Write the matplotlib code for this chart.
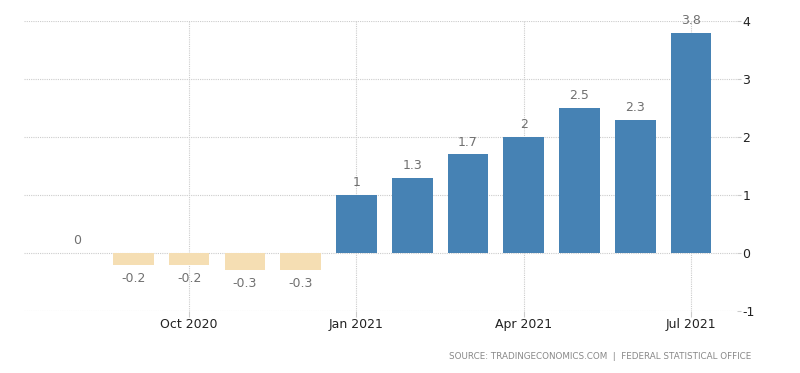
import matplotlib.pyplot as plt
import numpy as np

# monthly values, Aug 2020 - Jul 2021
months = ["Aug 2020", "Sep 2020", "Oct 2020", "Nov 2020", "Dec 2020", "Jan 2021",
          "Feb 2021", "Mar 2021", "Apr 2021", "May 2021", "Jun 2021", "Jul 2021"]
values = [0, -0.2, -0.2, -0.3, -0.3, 1, 1.3, 1.7, 2, 2.5, 2.3, 3.8]
value_labels = ["0", "-0.2", "-0.2", "-0.3", "-0.3", "1", "1.3", "1.7", "2", "2.5", "2.3", "3.8"]
tick_months = ["Oct 2020", "Jan 2021", "Apr 2021", "Jul 2021"]
y_ticks = [-1, 0, 1, 2, 3, 4]

BLUE = "#4682B4"
WHEAT = "#F5DEB3"

fig = plt.figure(figsize=(8, 3.73), dpi=100)
ax = fig.add_axes([0.03, 0.1662, 0.891, 0.7775])

x = np.arange(len(months))
colors = [BLUE if v > 0 else WHEAT for v in values]
ax.bar(x, values, width=0.73, color=colors, zorder=2)

# value labels
for xi, v, lab in zip(x, values, value_labels):
    if v >= 0:
        ax.text(xi, v + 0.1, lab, ha="center", va="bottom", fontsize=9, color="#707070")
    else:
        ax.text(xi, v - 0.12, lab, ha="center", va="top", fontsize=9, color="#707070")

ax.set_xlim(-0.96, 11.82)
ax.set_ylim(-1, 4)

ax.set_xticks([months.index(m) for m in tick_months])
ax.set_xticklabels(tick_months, fontsize=9, color="#222222")
ax.set_yticks(y_ticks)
ax.set_yticklabels([str(t) for t in y_ticks], fontsize=9, color="#222222")
ax.yaxis.tick_right()

ax.tick_params(axis="x", length=4, color="#cccccc", pad=1)
ax.tick_params(axis="y", length=3, color="#cccccc", pad=1)

ax.grid(True, linestyle=(0, (1, 1)), color="#cccccc", linewidth=0.8, zorder=0)
ax.set_axisbelow(True)
for s in ax.spines.values():
    s.set_visible(False)

fig.text(0.939, 0.045, "SOURCE: TRADINGECONOMICS.COM  |  FEDERAL STATISTICAL OFFICE",
         ha="right", va="center", fontsize=6.3, color="#888888")

fig.savefig("out.png", dpi=100)
